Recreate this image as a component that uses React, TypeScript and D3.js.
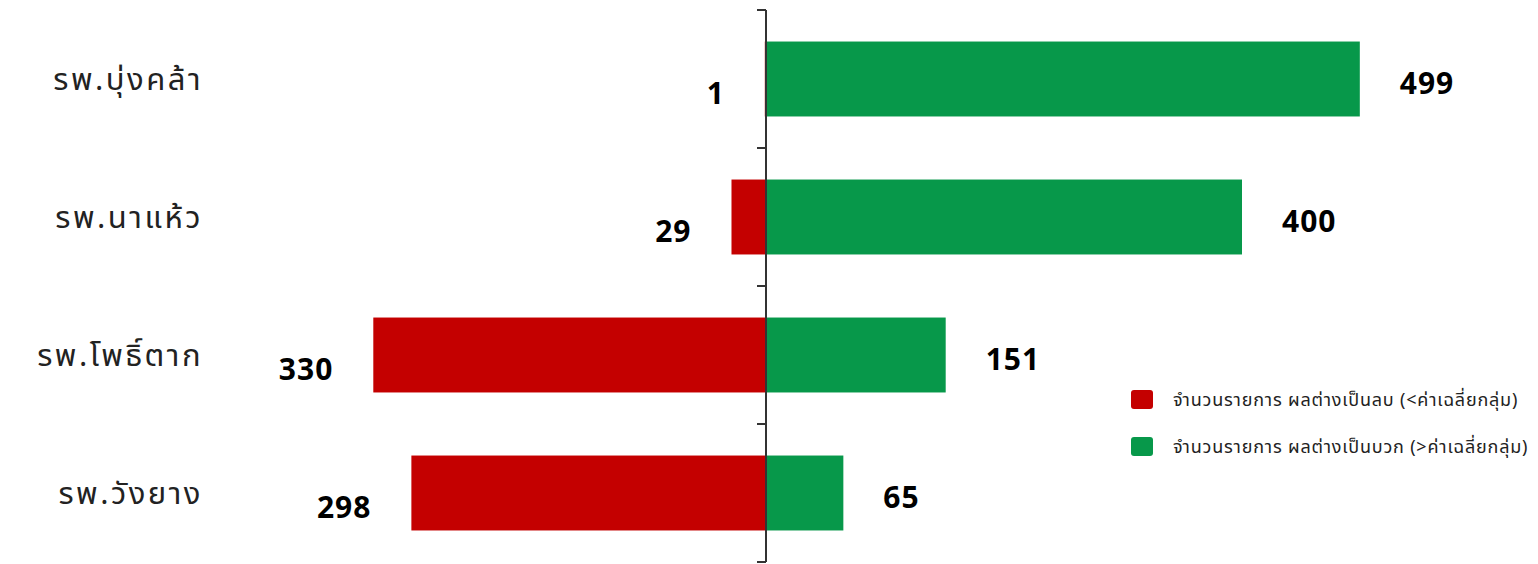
import React from "react";
import * as d3 from "d3";

const categories = ["รพ.บุ่งคล้า", "รพ.นาแห้ว", "รพ.โพธิ์ตาก", "รพ.วังยาง"];
const negativeCounts = [1, 29, 330, 298];
const positiveCounts = [499, 400, 151, 65];
const legendLabels = [
  "จำนวนรายการ ผลต่างเป็นลบ (<ค่าเฉลี่ยกลุ่ม)",
  "จำนวนรายการ ผลต่างเป็นบวก (>ค่าเฉลี่ยกลุ่ม)",
];

const W = 1538;
const H = 564;
const RED = "#C40000";
const GREEN = "#07984A";
const THAI_FONT = "'Noto Sans', 'Noto Sans Thai', 'Loma', 'Garuda', sans-serif";
const NUM_FONT = "'Noto Sans', 'Open Sans', sans-serif";

export default function App() {
  const minV = -d3.max(negativeCounts)!;
  const maxV = d3.max(positiveCounts)!;
  const pxPerUnit = 1.19;
  const zeroX = 766;
  const x = d3
    .scaleLinear()
    .domain([minV, maxV])
    .range([zeroX + minV * pxPerUnit, zeroX + maxV * pxPerUnit]);

  const y = d3
    .scaleBand<string>()
    .domain(categories)
    .range([10, 562])
    .paddingInner(0.457)
    .paddingOuter(0.2285);

  const bw = y.bandwidth();
  const step = y.step();
  const tickYs = [
    ...categories.map((c) => y(c)! - (step - bw) / 2),
    y(categories[categories.length - 1])! + bw + (step - bw) / 2,
  ];

  return (
    <div style={{ position: "absolute", left: 0, top: 0 }}>
      <svg width={W} height={H} style={{ display: "block" }}>
        <rect x={0} y={0} width={W} height={H} fill="#fff" />
        {categories.map((c, i) => {
          const yc = y(c)! + bw / 2;
          return (
            <g key={c}>
              <rect
                x={x(-negativeCounts[i])}
                y={y(c)!}
                width={x(0) - x(-negativeCounts[i])}
                height={bw}
                fill={RED}
              />
              <rect
                x={x(0)}
                y={y(c)!}
                width={x(positiveCounts[i]) - x(0)}
                height={bw}
                fill={GREEN}
              />
              <text
                x={203}
                y={yc}
                dy="0.35em"
                textAnchor="end"
                fontFamily={THAI_FONT}
                fontSize={31}
                fontWeight={400}
                letterSpacing={2.5}
                fill="#222"
              >
                {c}
              </text>
              <text
                x={x(-negativeCounts[i]) - 40}
                y={yc + 14}
                dy="0.35em"
                textAnchor="end"
                fontFamily={NUM_FONT}
                fontWeight={700}
                fontSize={30}
                letterSpacing={1}
                fill="#000"
              >
                {negativeCounts[i]}
              </text>
              <text
                x={x(positiveCounts[i]) + 40}
                y={yc + 4}
                dy="0.35em"
                textAnchor="start"
                fontFamily={NUM_FONT}
                fontWeight={700}
                fontSize={30}
                letterSpacing={1}
                fill="#000"
              >
                {positiveCounts[i]}
              </text>
            </g>
          );
        })}
        <line x1={x(0)} x2={x(0)} y1={10} y2={562} stroke="#333" strokeWidth={2} />
        {tickYs.map((t, i) => (
          <line key={i} x1={x(0) - 9} x2={x(0)} y1={t} y2={t} stroke="#333" strokeWidth={2} />
        ))}
        {legendLabels.map((l, i) => (
          <g key={l} transform={`translate(1131, ${390 + i * 47})`}>
            <rect x={0} y={0} width={22} height={19} rx={3} fill={i === 0 ? RED : GREEN} />
            <text
              x={42}
              y={9.5}
              dy="0.35em"
              fontFamily={THAI_FONT}
              fontSize={18}
              letterSpacing={0.8}
              fill="#222"
            >
              {l}
            </text>
          </g>
        ))}
      </svg>
    </div>
  );
}
